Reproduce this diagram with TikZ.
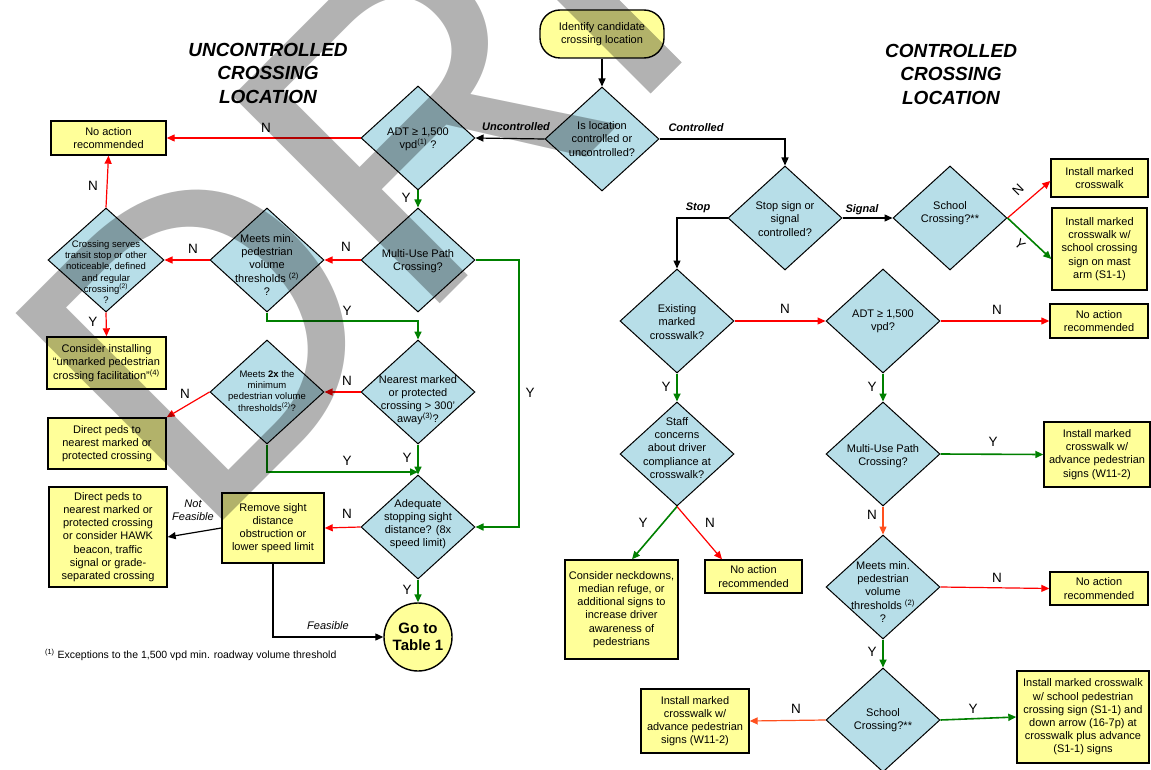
\documentclass[tikz,border=0pt]{standalone}
\usepackage{fontspec}
\setmainfont{Liberation Sans}
\usetikzlibrary{shapes.geometric,arrows.meta,calc}
\definecolor{byel}{RGB}{255,255,153}
\definecolor{dblue}{RGB}{183,222,232}
\definecolor{fred}{RGB}{255,0,0}
\definecolor{fgreen}{RGB}{0,128,0}
\definecolor{forange}{RGB}{255,80,30}
\newcommand{\fsM}{\fontsize{11}{13.2}\selectfont}
\newcommand{\fsS}{\fontsize{9.5}{11.2}\selectfont}
\begin{document}
\begin{tikzpicture}[x=1pt,y=-1pt,
  box/.style={draw=black, line width=1.4pt, fill=byel, align=center, font=\fsM, inner sep=0pt},
  dia/.style={diamond, draw=black, line width=1pt, fill=dblue, minimum width=114pt, minimum height=104pt, inner sep=0pt},
  dt/.style={align=center, font=\fsM, inner sep=0pt},
  ds/.style={align=center, font=\fsS, inner sep=0pt},
  yn/.style={font=\fontsize{13.5}{14}\selectfont, inner sep=0pt},
  bi/.style={font=\fontsize{11}{12}\selectfont\bfseries\itshape, inner sep=0pt},
  itl/.style={font=\fontsize{11}{13}\selectfont\itshape, align=center, inner sep=0pt},
  ttl/.style={font=\fontsize{19}{23.5}\selectfont\bfseries\itshape, align=center, inner sep=0pt},
  arr/.style={-{Triangle[length=8pt,width=7pt]}, line width=1.2pt},
  ared/.style={arr, draw=fred},
  agreen/.style={arr, draw=fgreen, line width=1.6pt},
  ablack/.style={arr, draw=black},
  aor/.style={arr, draw=forange},
  wmark/.style={black, opacity=0.3}
]
\useasboundingbox (0,0) rectangle (1151,770);

% titles
\node[ttl] (t1) at (268,73) {UNCONTROLLED\\CROSSING\\LOCATION};
\node[ttl] (t2) at (951,74) {CONTROLLED\\CROSSING\\LOCATION};

% terminal
\node[draw=black, line width=1.4pt, fill=byel, rounded corners=20pt, minimum width=124pt, minimum height=48pt, align=center, font=\fsM, inner sep=0pt] (term) at (602,34) {Identify candidate\\crossing location};

% diamonds
\node[dia] (d1) at (602,139) {};
\node[dia] (adt1) at (418,138) {};
\node[dia] (mu1) at (418,260) {};
\node[dia] (mm1) at (267,260) {};
\node[dia, minimum width=116pt] (cs) at (106,260) {};
\node[dia] (nr) at (418,392) {};
\node[dia] (m2x) at (267,392) {};
\node[dia] (adq) at (418,527) {};
\node[dia] (stop) at (785,218) {};
\node[dia] (sch1) at (950,218) {};
\node[dia] (ex) at (677,321) {};
\node[dia] (adt2) at (883,321) {};
\node[dia] (staff) at (677,454) {};
\node[dia] (mu2) at (883,454) {};
\node[dia] (mm2) at (883,587) {};
\node[dia] (sch2) at (883,720) {};

% diamond texts
\node[dt] (d1t) at (602,139) {Is location\\controlled or\\uncontrolled?};
\node[dt] (adt1t) at (418,139) {ADT ≥ 1,500\\vpd\textsuperscript{(1)} ?};
\node[dt] (mu1t) at (418,261) {Multi-Use Path\\Crossing?};
\node[dt] (mm1t) at (267,265) {Meets min.\\pedestrian\\volume\\thresholds \textsuperscript{(2)}\\?};
\node[ds] (cst) at (106,272) {Crossing serves\\transit stop or other\\noticeable, defined\\and regular\\crossing\textsuperscript{(2)}\\?};
\node[dt] (nrt) at (418,400) {Nearest marked\\or protected\\crossing > 300’\\away\textsuperscript{(3)}?};
\node[ds] (m2xt) at (267,391) {Meets \textbf{2x} the\\minimum\\pedestrian volume\\thresholds\textsuperscript{(2)}?};
\node[dt] (adqt) at (418,524) {Adequate\\stopping sight\\distance? (8x\\speed limit)};
\node[dt] (stopt) at (785,219) {Stop sign or\\signal\\controlled?};
\node[dt] (sch1t) at (950,213) {School\\Crossing?**};
\node[dt] (ext) at (677,322) {Existing\\marked\\crosswalk?};
\node[dt] (adt2t) at (883,321) {ADT ≥ 1,500\\vpd?};
\node[dt] (stafft) at (677,448) {Staff\\concerns\\about driver\\compliance at\\crosswalk?};
\node[dt] (mu2t) at (883,456) {Multi-Use Path\\Crossing?};
\node[dt] (mm2t) at (883,592) {Meets min.\\pedestrian\\volume\\thresholds \textsuperscript{(2)}\\?};
\node[dt] (sch2t) at (883,720) {School\\Crossing?**};

% boxes
\node[box, minimum width=115pt, minimum height=34pt] (nar1) at (108.5,138) {No action\\recommended};
\node[box, minimum width=119pt, minimum height=52pt] (cons) at (106.5,363) {Consider installing\\“unmarked pedestrian\\crossing facilitation”\textsuperscript{(4)}};
\node[box, minimum width=118pt, minimum height=51pt] (dir1) at (107,443.5) {Direct peds to\\nearest marked or\\protected crossing};
\node[box, minimum width=118pt, minimum height=100pt] (dir2) at (108,537) {Direct peds to\\nearest marked or\\protected crossing\\or consider HAWK\\beacon, traffic\\signal or grade-\\separated crossing};
\node[box, minimum width=102pt, minimum height=70pt] (rem) at (273,528) {Remove sight\\distance\\obstruction or\\lower speed limit};
\node[box, minimum width=97pt, minimum height=38pt] (imc) at (1099.5,178) {Install marked\\crosswalk};
\node[box, minimum width=95pt, minimum height=82pt] (isch) at (1099.5,249) {Install marked\\crosswalk w/\\school crossing\\sign on mast\\arm (S1-1)};
\node[box, minimum width=98pt, minimum height=34pt] (nar2) at (1099,321) {No action\\recommended};
\node[box, minimum width=106pt, minimum height=65pt] (iadv1) at (1097,454.5) {Install marked\\crosswalk w/\\advance pedestrian\\signs (W11-2)};
\node[box, minimum width=113pt, minimum height=99pt] (neck) at (621.5,609.5) {Consider neckdowns,\\median refuge, or\\additional signs to\\increase driver\\awareness of\\pedestrians};
\node[box, minimum width=97pt, minimum height=33pt] (nar3) at (753.5,576.5) {No action\\recommended};
\node[box, minimum width=98pt, minimum height=33pt] (nar4) at (1099,588.5) {No action\\recommended};
\node[box, minimum width=108pt, minimum height=64pt] (iadv2) at (695,721) {Install marked\\crosswalk w/\\advance pedestrian\\signs (W11-2)};
\node[box, minimum width=132pt, minimum height=92pt] (isch2) at (1083,717) {Install marked crosswalk\\w/ school pedestrian\\crossing sign (S1-1) and\\down arrow (16-7p) at\\crosswalk plus advance\\(S1-1) signs};
\node[circle, draw=black, line width=1.4pt, fill=byel, minimum size=68pt, inner sep=0pt, align=center, font=\fontsize{15}{17}\selectfont\bfseries] (goto) at (418,637) {Go to\\Table 1};

% coordinates
\coordinate (c1) at (418,321);
\coordinate (mr) at (519,393);
\coordinate (cj) at (418,472);

% connectors
\draw[ablack] (term.south) -- (d1.north);
\draw[ablack] (d1.west) -- (adt1.east);
\draw[ablack] (d1.east) -| (stop.north);
\draw[ared] (adt1.west) -- (nar1.east);
\draw[agreen] (adt1.south) -- (mu1.north);
\draw[ared] (mu1.west) -- (mm1.east);
\draw[ared] (mm1.west) -- (cs.east);
\draw[ared] (cs.north) -- (nar1.south);
\draw[ared] (cs.south) -- (cons.north);
\draw[agreen] (mm1.south) |- (c1) -- (nr.north);
\draw[agreen] (mu1.east) -| (mr) |- (adq.east);
\draw[ared] (nr.west) -- (m2x.east);
\draw[ared] (m2x.west) -- (dir1.north east);
\draw[agreen] (m2x.south) |- (cj);
\draw[agreen] (nr.south) -- (adq.north);
\draw[ared] (adq.west) -- (rem.east);
\draw[ablack] (rem.west) -- (dir2.east);
\draw[ablack] (rem.south) |- (goto.west);
\draw[agreen] (adq.south) -- (goto.north);
\draw[ablack] (stop.east) -- (sch1.west);
\draw[ablack] (stop.west) -| (ex.north);
\draw[ared] (sch1.east) -- ([yshift=-3pt]imc.west);
\draw[agreen] (sch1.east) -- ([yshift=-10pt]isch.west);
\draw[ared] (ex.east) -- (adt2.west);
\draw[ared] (adt2.east) -- (nar2.west);
\draw[agreen] (ex.south) -- (staff.north);
\draw[agreen] (adt2.south) -- (mu2.north);
\draw[agreen] (mu2.east) -- (iadv1.west);
\draw[aor] (mu2.south) -- (mm2.north);
\draw[agreen] (staff.south) -- ([xshift=10.5pt]neck.north);
\draw[ared] (staff.south) -- ([xshift=-31.5pt]nar3.north);
\draw[ared] (mm2.east) -- (nar4.west);
\draw[agreen] (mm2.south) -- (sch2.north);
\draw[aor] (sch2.west) -- (iadv2.east);
\draw[agreen] (sch2.east) -- (isch2.west);

% connector labels
\node[bi] (lu) at (516,127) {Uncontrolled};
\node[bi] (lc) at (696,128) {Controlled};
\node[bi] (ls) at (698,208) {Stop};
\node[bi] (lsg) at (862,210) {Signal};
\node[itl] (lnf) at (193,510) {Not\\Feasible};
\node[itl] (lf) at (328,626) {Feasible};
\node[yn] (n1) at (266,128) {N};
\node[yn] (y1) at (406,198) {Y};
\node[yn] (n2) at (346,247) {N};
\node[yn] (n3) at (193,249) {N};
\node[yn] (n4) at (93,186) {N};
\node[yn] (y2) at (93,322) {Y};
\node[yn] (y3) at (347,311) {Y};
\node[yn] (y4) at (530,393) {Y};
\node[yn] (n5) at (347,381) {N};
\node[yn] (n6) at (185,394) {N};
\node[yn] (y5) at (347,461) {Y};
\node[yn] (y6) at (407,458) {Y};
\node[yn] (n7) at (347,514) {N};
\node[yn] (y7) at (407,590) {Y};
\node[yn, rotate=45] (n8) at (1018,190) {N};
\node[yn, rotate=-45] (y8) at (1020,244) {Y};
\node[yn] (n9) at (785,309) {N};
\node[yn] (n10) at (997,310) {N};
\node[yn] (y9) at (666,387) {Y};
\node[yn] (y10) at (872,387) {Y};
\node[yn] (y11) at (993,442) {Y};
\node[yn] (n11) at (872,515) {N};
\node[yn] (y12) at (643,523) {Y};
\node[yn] (n12) at (710,523) {N};
\node[yn] (n13) at (997,578) {N};
\node[yn] (y13) at (872,652) {Y};
\node[yn] (n14) at (796,709) {N};
\node[yn] (y14) at (973,709) {Y};

% footnote
\node[font=\fontsize{10.5}{12}\selectfont, anchor=west, inner sep=0pt] (fn) at (45,655) {\textsuperscript{(1)} Exceptions to the 1,500 vpd min. roadway volume threshold};

% watermark
\node[font=\fontsize{426}{426}\selectfont, text=black, opacity=0.3, rotate=45, anchor=base west, inner sep=0pt] (wm) at (198,546) {DR};
\begin{scope}[shift={(222,522)}, x={(0.7071pt,0.7071pt)}, y={(-0.7071pt,0.7071pt)}]
  \fill[wmark] (606,0) -- (650,0) -- (650,320) -- (606,320) -- cycle;
\end{scope}
\end{tikzpicture}
\end{document}
